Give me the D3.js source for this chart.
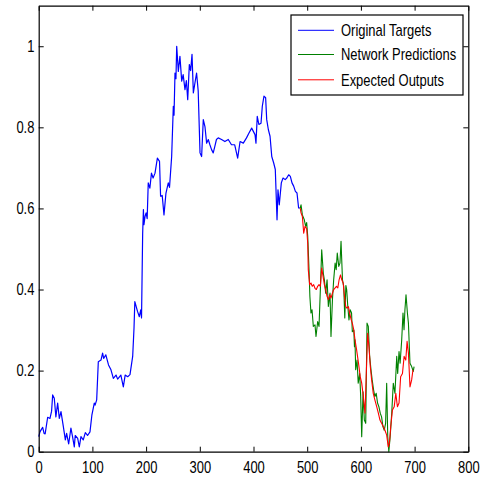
<!DOCTYPE html>
<html><head><meta charset="utf-8">
<script src="https://cdn.jsdelivr.net/npm/d3@7"></script>
<style>body{margin:0;background:#fff}svg{display:block}text{font-family:"Liberation Sans",Arial,sans-serif}</style>
</head><body><svg id="c" width="482" height="477"></svg>
<script>
const xTicks=[0,100,200,300,400,500,600,700,800];
const yTicks=[0,0.2,0.4,0.6,0.8,1];
const yTickLabels=["0","0.2","0.4","0.6","0.8","1"];
const legendLabels=["Original Targets","Network Predictions","Expected Outputs"];
const targetsX=[0,2.4,5,7.4,10,12,16.7,21,24,26,29,32,35.3,38.4,41.5,45.9,49.6,52,55.8,60,63,66.3,68,72.6,75.6,78.7,83,86.8,91,95.5,99,103.5,105,108,111,116,119,121,125,130,134.6,139,144,147,153,157.6,161,165.7,170,175,177.5,179,184,187.4,190,191.5,193.6,195,196,198,200,202,204,207,210,213,216.6,221,225,227,230,233.3,237,241.3,243.6,247.6,250.7,252,253.8,255.6,257,260,263,266.3,269,272.4,275,277.5,280.5,283,285.5,288,291,294,297,300.4,303.4,306.5,309.6,312.7,315.8,318.8,321.9,325,328,331,334.3,340.5,346.7,353,359,365,370.5,375,381,387,391.6,396.6,399.7,402.8,404.6,407,410,414,416.4,419.5,422.6,424.6,427.7,430.8,434,437.6,440.6,443.8,445.6,448,451.8,455,459,462,465.5,468.6,471.7,474.8,478,481,484,487];
const targetsY=[0.037,0.049,0.055,0.06,0.045,0.044,0.085,0.082,0.1,0.14,0.132,0.086,0.12,0.082,0.099,0.062,0.029,0.045,0.019,0.058,0.037,0.012,0.04,0.033,0.012,0.037,0.029,0.047,0.04,0.049,0.09,0.12,0.115,0.128,0.222,0.226,0.243,0.23,0.239,0.214,0.202,0.181,0.189,0.179,0.189,0.16,0.189,0.185,0.19,0.235,0.305,0.37,0.346,0.333,0.35,0.33,0.539,0.597,0.56,0.58,0.589,0.575,0.663,0.65,0.687,0.675,0.687,0.724,0.716,0.63,0.632,0.584,0.638,0.663,0.652,0.728,0.852,0.83,0.934,0.92,1.0,0.938,0.975,0.914,0.93,0.893,0.915,0.868,0.955,0.94,0.98,0.885,0.91,0.934,0.89,0.737,0.728,0.819,0.802,0.761,0.77,0.757,0.745,0.737,0.753,0.77,0.774,0.77,0.765,0.77,0.757,0.757,0.724,0.765,0.761,0.774,0.786,0.798,0.79,0.782,0.761,0.827,0.807,0.81,0.852,0.877,0.873,0.819,0.794,0.778,0.728,0.712,0.696,0.572,0.646,0.609,0.663,0.675,0.671,0.675,0.683,0.679,0.663,0.655,0.642,0.638,0.601,0.601];
const predX=[487,488.5,491,494.6,497,499,501,503.4,505,507,509,511.4,514.5,516.4,519.5,522,524.5,527,530,532,534.4,537,539.4,542.5,544.3,547,549.3,552,554,556,558.8,561,563,565.7,568,570,572,573.5,575.4,577.8,580,582.6,584,586.8,588,589,590.3,592.8,595,597.8,599.6,601.5,604,606.4,609,611.4,613.8,616.3,618.8,621,623.7,626,628.5,631,633.5,636,638.5,641,643.5,646,648,650,652,654.5,657.4,660.3,663.4,666.7,668.5,671,673,676,678.4,680.3,682,684,686.6,688.5,691.4,694.5,697.5,699];
const predY=[0.601,0.609,0.584,0.572,0.556,0.565,0.531,0.449,0.383,0.342,0.35,0.309,0.313,0.284,0.321,0.309,0.4,0.498,0.44,0.424,0.391,0.424,0.358,0.391,0.284,0.375,0.424,0.465,0.449,0.49,0.457,0.465,0.519,0.424,0.408,0.33,0.41,0.4,0.362,0.325,0.35,0.342,0.296,0.3,0.259,0.276,0.202,0.226,0.169,0.193,0.136,0.037,0.148,0.078,0.07,0.317,0.309,0.235,0.202,0.177,0.152,0.136,0.144,0.12,0.111,0.095,0.086,0.062,0.053,0.07,0.169,0.037,0.0,0.037,0.095,0.169,0.144,0.235,0.193,0.247,0.218,0.276,0.342,0.301,0.35,0.387,0.342,0.317,0.218,0.21,0.198,0.21];
const expX=[487,488.5,491,493.5,496,499,501,502,504.6,507,509.4,512,514.5,517,519.5,522,524.5,527,529.6,532,534.4,537,539.4,542,544.3,547,549.3,552,554.5,557,559.4,562,564.4,567,569.4,571.8,574,576.8,579,582,584,586.8,589,592,595.6,598.7,601.5,604.5,607.6,610.7,612.6,615,617.5,620,623,626,629.4,632.5,635.5,638.5,641.7,644.8,648,651,653,655.6,658.7,662,665,668,671,674,677.4,680.5,683.6,686,688.5,691.4,694.5,697];
const expY=[0.601,0.589,0.58,0.539,0.556,0.55,0.514,0.449,0.412,0.416,0.408,0.412,0.403,0.4,0.408,0.412,0.408,0.453,0.432,0.412,0.4,0.383,0.375,0.387,0.379,0.391,0.4,0.404,0.408,0.404,0.424,0.436,0.424,0.416,0.383,0.358,0.354,0.358,0.342,0.325,0.317,0.3,0.276,0.251,0.218,0.185,0.169,0.136,0.095,0.218,0.292,0.259,0.21,0.177,0.144,0.128,0.111,0.095,0.078,0.07,0.062,0.053,0.041,0.012,0.02,0.062,0.103,0.111,0.144,0.111,0.12,0.185,0.193,0.235,0.226,0.272,0.243,0.16,0.177,0.202];
const colors=["#0000ff","#008000","#ff0000"];

const svg=d3.select("#c");
const L=38.7,R=468.3,T=5.7,B=451.7,SX=0.81;
const x=d3.scaleLinear().domain([0,800]).range([L,R]);
const y=d3.scaleLinear().domain([0,1.1]).range([B,T]);

const line=d3.line().x(d=>x(d[0])).y(d=>y(d[1]));
const series=[d3.zip(targetsX,targetsY),d3.zip(predX,predY),d3.zip(expX,expY)];
series.forEach((s,i)=>{
  svg.append("path").datum(s).attr("d",line).attr("fill","none")
    .attr("stroke",colors[i]).attr("stroke-width",i===0?1.2:1.1).attr("stroke-linejoin","round");
});

function styleAxis(g){
  g.selectAll("path.domain").attr("stroke","#000").attr("stroke-width",1.2);
  g.selectAll(".tick line").attr("stroke","#000");
  g.selectAll("text").attr("font-size",16).attr("fill","#000").attr("font-family",'"Liberation Sans",Arial,sans-serif');
}
const gb=svg.append("g").attr("transform",`translate(0,${B})`)
  .call(d3.axisBottom(x).tickValues(xTicks).tickSizeInner(-5).tickSizeOuter(0).tickPadding(10).tickFormat(d3.format("d")));
styleAxis(gb);
gb.selectAll("text").attr("transform",`scale(${SX},1)`);
const gt=svg.append("g").attr("transform",`translate(0,${T})`)
  .call(d3.axisTop(x).tickValues(xTicks).tickSizeInner(-5).tickSizeOuter(0).tickFormat(""));
styleAxis(gt);
const gl=svg.append("g").attr("transform",`translate(${L},0)`)
  .call(d3.axisLeft(y).tickValues(yTicks).tickSizeInner(-5).tickSizeOuter(0).tickPadding(4.3).tickFormat((d,i)=>yTickLabels[i]));
styleAxis(gl);
gl.selectAll("text").attr("transform",`scale(${SX},1)`).attr("x",-4.3/SX);
const gr=svg.append("g").attr("transform",`translate(${R},0)`)
  .call(d3.axisRight(y).tickValues(yTicks).tickSizeInner(-5).tickSizeOuter(0).tickFormat(""));
styleAxis(gr);

// legend
const lg=svg.append("g");
lg.append("rect").attr("x",291).attr("y",15).attr("width",172).attr("height",80)
  .attr("fill","#fff").attr("stroke","#000").attr("stroke-width",1.2);
const rowsY=[30.3,54.5,79.8];
legendLabels.forEach((t,i)=>{
  lg.append("line").attr("x1",298).attr("x2",334).attr("y1",rowsY[i]).attr("y2",rowsY[i])
    .attr("stroke",colors[i]).attr("stroke-width",1);
  lg.append("text").attr("transform",`translate(341,${rowsY[i]}) scale(${SX},1)`)
    .attr("dy","0.36em").attr("font-size",16).attr("fill","#000").text(t);
});
</script></body></html>
